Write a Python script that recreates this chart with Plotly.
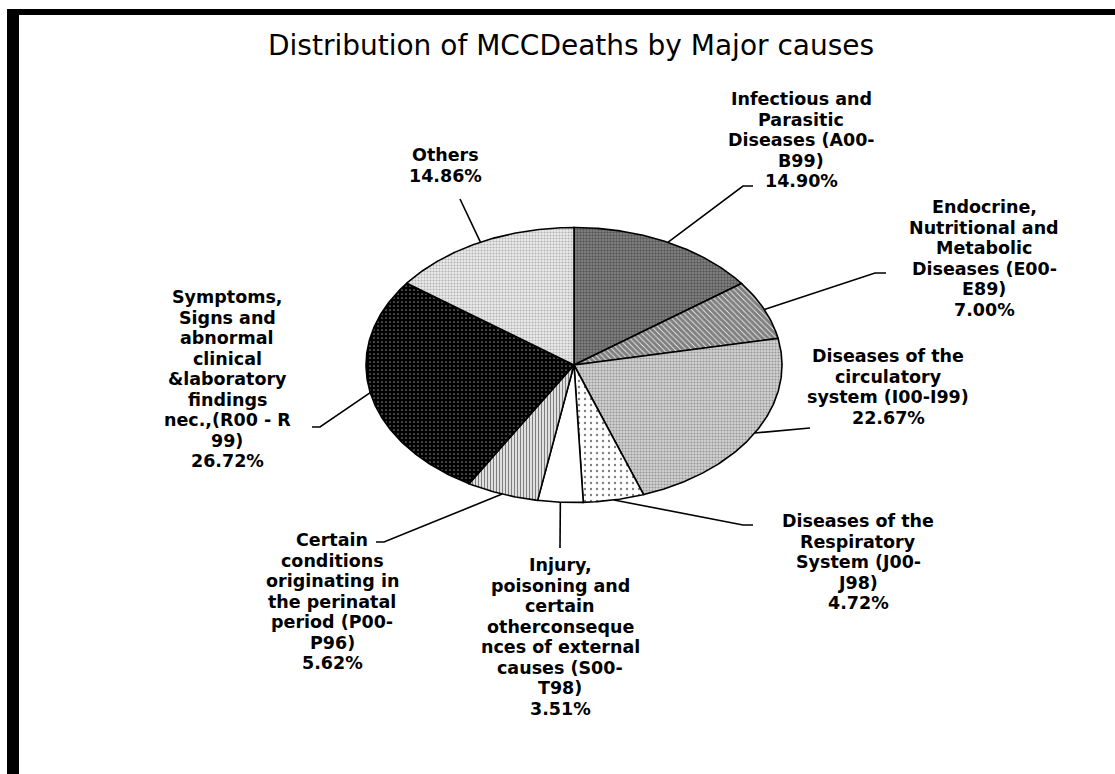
import numpy as np
import plotly.graph_objects as go

# ---------------- data ----------------
title_text = "Distribution of MCCDeaths by Major causes"
categories = [
    "Infectious and Parasitic Diseases (A00-B99)",
    "Endocrine, Nutritional and Metabolic Diseases (E00-E89)",
    "Diseases of the circulatory system (I00-I99)",
    "Diseases of the Respiratory System (J00-J98)",
    "Injury, poisoning and certain otherconsequences of external causes (S00-T98)",
    "Certain conditions originating in the perinatal period (P00-P96)",
    "Symptoms, Signs and abnormal clinical &laboratory findings nec.,(R00 - R 99)",
    "Others",
]
values = [14.90, 7.00, 22.67, 4.72, 3.51, 5.62, 26.72, 14.86]
label_lines = [
    ["Infectious and", "Parasitic", "Diseases (A00-", "B99)"],
    ["Endocrine,", "Nutritional and", "Metabolic", "Diseases (E00-", "E89)"],
    ["Diseases of the", "circulatory", "system (I00-I99)"],
    ["Diseases of the", "Respiratory", "System (J00-", "J98)"],
    ["Injury,", "poisoning and", "certain", "otherconseque", "nces of external", "causes (S00-", "T98)"],
    ["Certain", "conditions", "originating in", "the perinatal", "period (P00-", "P96)"],
    ["Symptoms,", "Signs and", "abnormal", "clinical", "&laboratory", "findings", "nec.,(R00 - R", "99)"],
    ["Others"],
]

# ---------------- layout / style (positions in pixels) ----------------
W, H = 1115, 774
CX, CY, RA, RB = 574, 365, 208, 137.5          # elliptical pie
label_pos = [(801, 99), (984, 207), (888, 356), (858, 521),
             (560, 565), (332, 540), (227, 297), (445, 155)]
leader_pts = [[(743, 186), (753, 186)], [(875, 273), (886, 273)], [(810, 428)],
              [(743, 525), (753, 525)], [(560, 548)], [(384, 542), (376, 542)],
              [(320, 427), (312, 427)], [(460, 199)]]
LINE_PITCH = 20.5
patterns = [
    dict(shape=".", fgcolor="#262626", bgcolor="#888888", size=3, solidity=0.5),
    dict(shape="\\", fgcolor="#000000", bgcolor="#ffffff", size=4, solidity=0.8),
    dict(shape=".", fgcolor="#5a5a5a", bgcolor="#d2d2d2", size=3, solidity=0.4),
    dict(shape=".", fgcolor="#000000", bgcolor="#ffffff", size=6, solidity=0.12),
    None,
    dict(shape="|", fgcolor="#000000", bgcolor="#ffffff", size=3, solidity=0.5),
    dict(shape=".", fgcolor="#ffffff", bgcolor="#000000", size=4, solidity=0.15),
    dict(shape=".", fgcolor="#7a7a7a", bgcolor="#ececec", size=3, solidity=0.4),
]
LABEL_FONT = dict(family="DejaVu Sans", size=17.5, color="black", weight="bold")

fig = go.Figure()

total = sum(values)
start = 0.0
for i, v in enumerate(values):
    t0 = start / total * 2 * np.pi
    t1 = (start + v) / total * 2 * np.pi
    ts = np.linspace(t0, t1, max(int(np.degrees(t1 - t0)) * 2, 4))
    xs = np.concatenate([[CX], CX + RA * np.sin(ts), [CX]])
    ys = np.concatenate([[CY], CY - RB * np.cos(ts), [CY]])
    kw = {}
    if patterns[i] is not None:
        kw["fillpattern"] = patterns[i]
        kw["fillcolor"] = patterns[i]["bgcolor"]
    else:
        kw["fillcolor"] = "white"
    fig.add_trace(go.Scatter(
        x=xs, y=ys, mode="lines", fill="toself",
        line=dict(color="black", width=1.6),
        name=categories[i], hoverinfo="name", showlegend=False, **kw))

    # leader line from mid-angle on the pie edge
    tm = (start + v / 2) / total * 2 * np.pi
    lx = [CX + RA * np.sin(tm)] + [p[0] for p in leader_pts[i]]
    ly = [CY - RB * np.cos(tm)] + [p[1] for p in leader_pts[i]]
    fig.add_trace(go.Scatter(x=lx, y=ly, mode="lines",
                             line=dict(color="black", width=1.6),
                             hoverinfo="skip", showlegend=False))

    # label lines
    lines = label_lines[i] + [f"{v:.2f}%"]
    px, py = label_pos[i]
    for k, s in enumerate(lines):
        fig.add_annotation(x=px, y=py + k * LINE_PITCH, text=s, showarrow=False,
                           xanchor="center", yanchor="middle", borderpad=0,
                           font=LABEL_FONT)
    start += v

fig.add_annotation(x=571, y=45, text=title_text, showarrow=False,
                   xanchor="center", yanchor="middle",
                   font=dict(family="DejaVu Sans", size=28, color="black"))

# frame (thick black left and top borders)
fig.add_shape(type="rect", x0=7, x1=19, y0=9, y1=H + 5, fillcolor="black",
              line=dict(width=0), layer="above")
fig.add_shape(type="rect", x0=7, x1=W + 5, y0=9, y1=15, fillcolor="black",
              line=dict(width=0), layer="above")

fig.update_layout(
    width=W, height=H, margin=dict(l=0, r=0, t=0, b=0),
    paper_bgcolor="white", plot_bgcolor="white",
    xaxis=dict(range=[0, W], visible=False, fixedrange=True),
    yaxis=dict(range=[H, 0], visible=False, fixedrange=True),
    showlegend=False,
)

fig.write_html("out.html", config={"displayModeBar": False},
               post_script="document.body.style.margin='0';")
